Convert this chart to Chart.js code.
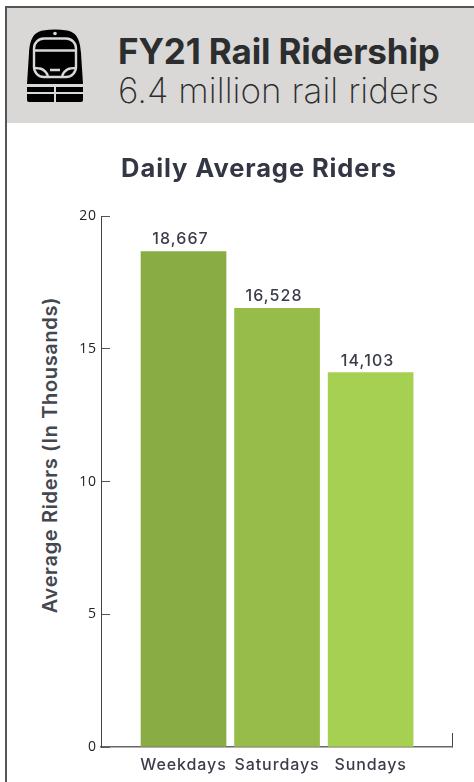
<!DOCTYPE html>
<html><head><meta charset="utf-8">
<script src="https://cdn.jsdelivr.net/npm/chart.js@4"></script>
<style>
html,body{margin:0;padding:0;background:#fff;width:474px;height:782px;overflow:hidden}
#frame{position:absolute;left:5px;top:6px;right:-4px;bottom:-4px;border:2px solid #555;box-sizing:border-box}
#head{position:absolute;left:7px;top:8px;width:467px;height:115px;background:#d9d8d6}
#t1,#t2{position:absolute;left:118px;white-space:nowrap;color:#2b2d2e;font-family:Inter,sans-serif}
#t1{top:30px;font-size:35px;font-weight:700;letter-spacing:-0.15px;line-height:42px}
#t2{top:69px;font-size:35px;font-weight:200;letter-spacing:0.05px;line-height:42px}
#icon{position:absolute;left:27px;top:29px}
#wrap{position:absolute;left:66px;top:124px;width:388px;height:658px}
#ytitle{position:absolute;left:50px;top:454.5px;transform:translate(-50%,-50%) rotate(-90deg);white-space:nowrap;
  font:600 20px Inter,sans-serif;letter-spacing:0.65px;color:#45474f}
</style></head><body>
<div id="frame"></div><div id="head"></div>
<svg id="icon" width="57" height="74" viewBox="0 0 57 74">
<path d="M0 55 L2 24 C3 8 8 3 16 1.5 C24 0 32 0 40 1.5 C48 3 53 8 54 24 L56 55 Z" fill="#000"/>
<circle cx="28" cy="4.5" r="1.8" fill="#d9d8d6"/>
<rect x="7" y="9.5" width="42" height="38.5" rx="10" fill="none" stroke="#d9d8d6" stroke-width="2.4"/>
<path d="M7 21.5 H49" stroke="#d9d8d6" stroke-width="2.4"/>
<path d="M7 39 C14 39 18 40 21 47 M49 39 C42 39 38 40 35 47 M23 41 H33" fill="none" stroke="#d9d8d6" stroke-width="2.4"/>
<rect x="0" y="58" width="27" height="5" fill="#000"/><rect x="29" y="58" width="27" height="5" fill="#000"/>
<path d="M0 65 H27 V73 H2 Q0 73 0 71 Z M29 65 H56 V71 Q56 73 54 73 H29 Z" fill="#000"/>
</svg>
<div id="t1">FY21 Rail Ridership</div>
<div id="t2">6.4 million rail riders</div>
<div id="ytitle">Average Riders (In Thousands)</div>
<div id="wrap"><canvas id="c" width="388" height="658"></canvas></div>
<script>
const categories = ["Weekdays", "Saturdays", "Sundays"];
const riders = [18.667, 16.528, 14.103];
const riderLabels = ["18,667", "16,528", "14,103"];
const barColors = ["#8aac45", "#98bc4a", "#a6d052"];
const yTicks = [0, 5, 10, 15, 20];
const chartTitle = "Daily Average Riders";
const textColor = "#3a3c4a";
const fontFam = "Inter, sans-serif";

const labelPlugin = {
  id: "labels",
  beforeDraw(chart) { chart.ctx.letterSpacing = "0.9px"; },
  afterDatasetsDraw(chart) {
    const ctx = chart.ctx, meta = chart.getDatasetMeta(0);
    ctx.save();
    ctx.fillStyle = textColor;
    ctx.font = "500 16px " + fontFam;
    ctx.letterSpacing = "1.1px";
    ctx.textAlign = "center";
    ctx.textBaseline = "alphabetic";
    meta.data.forEach((bar, i) => ctx.fillText(riderLabels[i], bar.x - 3, bar.y - 7));
    ctx.restore();
  }
};

new Chart(document.getElementById("c"), {
  type: "bar",
  data: {
    datasets: [{
      data: categories.map((c, i) => ({ x: i + 1, y: riders[i] })),
      backgroundColor: barColors,
      barThickness: 85
    }]
  },
  options: {
    responsive: false,
    animation: false,
    layout: { padding: { right: 2 } },
    plugins: {
      legend: { display: false },
      tooltip: { enabled: false },
      title: {
        display: true, text: chartTitle, color: "#333645",
        font: { family: fontFam, size: 25.5, weight: "700", lineHeight: 1.2 },
        padding: { top: 30.5, bottom: 31 }
      }
    },
    scales: {
      x: {
        type: "linear", min: 0.118, max: 3.87, offset: false,
        afterBuildTicks: s => { s.ticks = [s.min, 1, 2, 3, s.max].map(value => ({ value })); },
        afterFit: s => { s.height = 35; s.paddingRight = 0; s.paddingLeft = 0; },
        ticks: {
          autoSkip: false, maxRotation: 0, padding: 23, color: textColor,
          font: { family: fontFam, size: 16, weight: "500" },
          callback: v => categories[v - 1] || ""
        },
        grid: {
          offset: false, drawOnChartArea: false, tickLength: -14, lineWidth: 1,
          color: c => (c.tick && Number.isInteger(c.tick.value)) ? "rgba(0,0,0,0)" : "#444"
        },
        border: { color: "#666", width: 1.5 }
      },
      y: {
        min: 0, max: 20,
        afterBuildTicks: s => { s.ticks = yTicks.map(value => ({ value })); },
        afterFit: s => { s.width = 35; },
        ticks: { padding: 13, color: "#222", font: { family: "'Open Sans', sans-serif", size: 14 } },
        grid: { drawOnChartArea: false, tickLength: -9, color: "#555", lineWidth: 1 },
        border: { color: "#444", width: 1 }
      }
    }
  },
  plugins: [labelPlugin]
});
</script>
</body></html>
